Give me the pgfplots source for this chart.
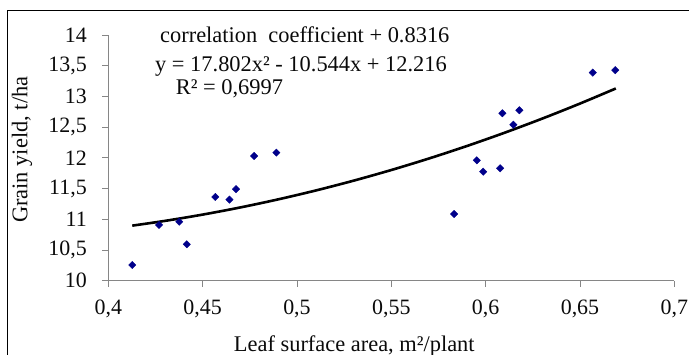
\documentclass[border=0pt]{standalone}
\usepackage{pgfplots}
\pgfplotsset{compat=1.18}
\usepackage{fontspec}
\setmainfont{Liberation Serif}
\definecolor{navymark}{HTML}{00008B}
\definecolor{axisgray}{HTML}{868686}
\definecolor{txt}{HTML}{0A0A0A}
\begin{document}
\begin{tikzpicture}
\useasboundingbox (-108.3bp,-74.3bp) rectangle (580.7bp,280.7bp);
\draw[black, line width=0.9bp] (-101.3bp,-74.3bp) -- (-101.3bp,270.7bp) -- (580.7bp,270.7bp);
\begin{axis}[
  at={(0,0)}, anchor=south west,
  scale only axis, width=566bp, height=245.7bp,
  xmin=0.4, xmax=0.7, ymin=10, ymax=14,
  axis x line*=bottom, axis y line*=left,
  axis line style={axisgray, line width=0.8bp},
  tick style={axisgray, line width=0.8bp},
  tick align=outside, major tick length=6bp,
  xtick={0.4,0.45,0.5,0.55,0.6,0.65,0.7},
  ytick={10,10.5,11,11.5,12,12.5,13,13.5,14},
  /pgf/number format/use comma,
  /pgf/number format/assume math mode=true,
  ticklabel style={font=\fontsize{22}{26}\selectfont, text=txt},
  xticklabel style={yshift=-10bp},
  yticklabel style={xshift=-12bp},
  clip=false,
]
\addplot[only marks, mark=square*, mark size=2.6bp, mark options={rotate=45, fill=navymark, draw=navymark}]
coordinates {
(0.4127,10.256) (0.4269,10.907) (0.4376,10.96) (0.4416,10.593)
(0.4567,11.363) (0.4642,11.32) (0.4677,11.49) (0.4773,12.03)
(0.4891,12.085) (0.5833,11.086) (0.5953,11.96) (0.5987,11.775)
(0.6077,11.83) (0.6089,12.726) (0.6147,12.54) (0.6179,12.775)
(0.6568,13.388) (0.6687,13.427)
};
\addplot[black, line width=2.6bp, smooth]
coordinates {
(0.4127,10.8965) (0.43,10.9737) (0.45,11.0761) (0.47,11.1928)
(0.49,11.3237) (0.51,11.4689) (0.53,11.6283) (0.55,11.8019)
(0.57,11.9898) (0.59,12.1919) (0.61,12.4083) (0.63,12.6389)
(0.65,12.8837) (0.669,13.1296)
};
\end{axis}
\begin{scope}[every node/.style={font=\fontsize{22.5}{26}\selectfont, text=txt, inner sep=0pt}]
\node[anchor=base west] at (51.7bp,237.7bp) {correlation\ \ coefficient + 0.8316};
\node[anchor=base west] at (46.7bp,208.7bp) {y = 17.802x² - 10.544x + 12.216};
\node[anchor=base west] at (67.4bp,185.7bp) {R² = 0,6997};
\node[anchor=base] at (246bp,-70.8bp) {Leaf surface area, m²/plant};
\node[anchor=center, rotate=90] at (-86.3bp,131bp) {Grain yield, t/ha};
\end{scope}
\end{tikzpicture}
\end{document}
